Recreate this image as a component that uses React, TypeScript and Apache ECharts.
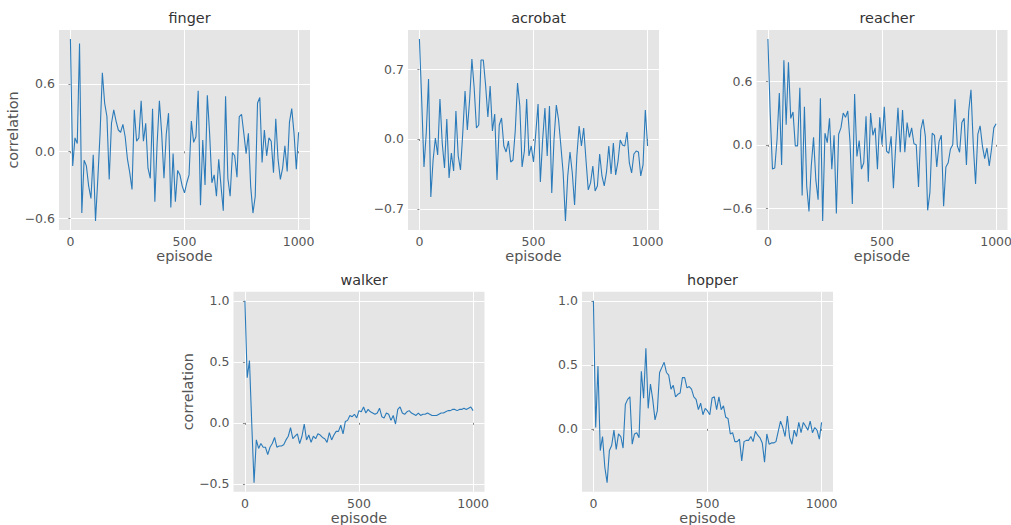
import React, { useEffect, useRef } from "react";
import * as echarts from "echarts";

// Episode index shared by every panel (one sample every 10 episodes)
const episodes = [
  0, 10, 20, 30, 40, 50, 60, 70, 80, 90,
  100, 110, 120, 130, 140, 150, 160, 170, 180, 190,
  200, 210, 220, 230, 240, 250, 260, 270, 280, 290,
  300, 310, 320, 330, 340, 350, 360, 370, 380, 390,
  400, 410, 420, 430, 440, 450, 460, 470, 480, 490,
  500, 510, 520, 530, 540, 550, 560, 570, 580, 590,
  600, 610, 620, 630, 640, 650, 660, 670, 680, 690,
  700, 710, 720, 730, 740, 750, 760, 770, 780, 790,
  800, 810, 820, 830, 840, 850, 860, 870, 880, 890,
  900, 910, 920, 930, 940, 950, 960, 970, 980, 990,
  1000,
];

const finger = [
  1.0, -0.13, 0.12, 0.07, 0.96, -0.55, -0.08, -0.13, -0.31, -0.42,
  -0.03, -0.62, -0.25, 0.16, 0.7, 0.43, 0.31, -0.25, 0.25, 0.37,
  0.27, 0.19, 0.17, 0.24, 0.13, -0.07, -0.19, -0.34, 0.37, 0.09,
  0.12, 0.45, 0.09, 0.25, -0.15, -0.24, 0.38, -0.45, 0.07, 0.45,
  0.16, -0.24, 0.15, 0.34, -0.5, -0.02, -0.45, -0.17, -0.21, -0.31,
  -0.37, -0.28, -0.21, 0.27, 0.08, 0.13, 0.54, -0.48, 0.1, -0.3,
  0.5, 0.16, -0.28, -0.21, -0.4, -0.07, -0.31, -0.53, 0.49, -0.24,
  -0.4, -0.01, -0.04, -0.23, 0.31, 0.33, 0.16, -0.02, 0.16, -0.31,
  -0.55, -0.4, 0.43, 0.48, -0.1, 0.19, -0.04, 0.12, 0.09, -0.19,
  0.29, -0.07, -0.25, -0.15, 0.05, -0.18, 0.26, 0.38, 0.16, -0.16,
  0.17,
];

const acrobat = [
  1.0, 0.39, -0.28, 0.06, 0.6, -0.58, -0.21, 0.01, -0.16, 0.4,
  -0.04, -0.29, 0.2, -0.39, -0.14, -0.32, 0.28, -0.17, -0.31, 0.06,
  0.48, 0.09, 0.39, 0.8, 0.51, 0.11, 0.14, 0.79, 0.79, 0.54,
  0.22, 0.53, 0.08, 0.25, -0.41, 0.14, 0.21, -0.07, -0.13, -0.02,
  -0.23, -0.21, 0.08, 0.56, 0.33, -0.28, -0.12, 0.4, -0.17, -0.07,
  -0.23, 0.06, 0.35, -0.43, -0.01, 0.31, -0.17, 0.33, -0.54, 0.0,
  0.34, 0.19, -0.07, -0.34, -0.82, -0.37, -0.13, -0.34, -0.66, -0.17,
  0.13, -0.07, 0.11, -0.21, -0.51, -0.44, -0.27, -0.52, -0.47, -0.15,
  -0.37, -0.47, -0.33, -0.07, -0.35, -0.04, -0.36, -0.23, -0.01, -0.06,
  -0.07, 0.07, -0.24, -0.34, -0.15, -0.12, -0.13, -0.37, -0.26, 0.29,
  -0.07,
];

const reacher = [
  1.0, 0.3, -0.23, -0.22, 0.05, 0.49, -0.19, 0.8, 0.19, 0.78,
  0.25, 0.31, -0.01, -0.01, 0.54, -0.48, 0.36, -0.39, -0.63, -0.2,
  0.07, -0.33, -0.52, 0.44, -0.72, 0.11, 0.02, 0.25, -0.23, 0.09,
  -0.65, 0.1, 0.16, 0.3, 0.26, 0.32, 0.02, -0.56, 0.48, -0.11,
  0.04, -0.23, -0.17, 0.27, -0.35, 0.3, 0.09, 0.16, -0.23, 0.26,
  0.0, 0.36, -0.06, -0.08, 0.08, -0.41, -0.01, 0.35, -0.07, 0.33,
  -0.07, 0.21, 0.07, 0.16, 0.01, 0.0, -0.4, 0.14, 0.24, 0.08,
  -0.62, -0.45, 0.11, 0.09, -0.21, 0.03, 0.09, -0.58, -0.21, -0.17,
  -0.04, 0.0, 0.43, -0.01, -0.07, 0.21, 0.25, -0.19, 0.32, 0.52,
  0.0, -0.37, 0.1, 0.18, -0.01, -0.13, -0.03, -0.2, -0.04, 0.16,
  0.2,
];

const walker = [
  1.0, 0.37, 0.51, -0.01, -0.49, -0.14, -0.21, -0.17, -0.2, -0.2,
  -0.26, -0.2, -0.17, -0.12, -0.2, -0.19, -0.19, -0.18, -0.14, -0.11,
  -0.04, -0.13, -0.11, -0.09, -0.17, -0.11, -0.01, -0.14, -0.1, -0.16,
  -0.11, -0.13, -0.09, -0.1, -0.12, -0.13, -0.16, -0.08, -0.14, -0.1,
  -0.07, -0.07, -0.02, -0.09, 0.01, 0.02, 0.06, 0.05, 0.07, 0.04,
  0.1, 0.09, 0.13, 0.08, 0.11, 0.09, 0.08, 0.07, 0.08, 0.12,
  0.05, 0.04, 0.08, 0.07, 0.02, 0.06, -0.01, 0.11, 0.13, 0.08,
  0.07, 0.09, 0.1, 0.08, 0.07, 0.06, 0.08, 0.06, 0.07, 0.07,
  0.08, 0.07, 0.06, 0.06, 0.06, 0.07, 0.08, 0.08, 0.09, 0.1,
  0.1, 0.11, 0.11, 0.1, 0.11, 0.11, 0.12, 0.11, 0.12, 0.13,
  0.1,
];

const hopper = [
  1.0, 0.01, 0.49, -0.17, -0.06, -0.3, -0.42, -0.17, -0.13, -0.01,
  -0.16, -0.04, -0.06, -0.15, 0.19, 0.23, 0.25, -0.12, -0.04, -0.03,
  -0.07, 0.45, 0.24, 0.63, 0.16, 0.35, 0.23, 0.07, 0.14, 0.44,
  0.48, 0.52, 0.44, 0.42, 0.31, 0.34, 0.25, 0.27, 0.28, 0.4,
  0.4, 0.32, 0.33, 0.31, 0.25, 0.23, 0.15, 0.2, 0.11, 0.16,
  0.14, 0.11, 0.24, 0.25, 0.15, 0.25, 0.15, 0.18, 0.09, 0.08,
  -0.04, -0.03, -0.1, -0.1, -0.08, -0.25, -0.1, -0.09, -0.09, -0.06,
  -0.1, -0.02, -0.05, -0.07, -0.11, -0.26, -0.04, -0.12, -0.11, -0.11,
  -0.1, -0.02, 0.06, 0.01, -0.06, 0.1, -0.07, -0.12, -0.01, -0.06,
  0.05, -0.03, 0.05, 0.02, -0.01, 0.06, -0.03, 0.01, -0.01, -0.08,
  0.05,
];

// Tick positions
const xTicks = [0, 500, 1000];
const fingerTicks = [-0.6, 0.0, 0.6];
const acrobatTicks = [-0.7, 0.0, 0.7];
const reacherTicks = [-0.6, 0.0, 0.6];
const walkerTicks = [-0.5, 0.0, 0.5, 1.0];
const hopperTicks = [0.0, 0.5, 1.0];

const FONT = "DejaVu Sans";
const TEXT_GRAY = "#555555";
const LINE_BLUE = "#2b7bba";

type Panel = {
  title: string;
  values: number[];
  ticks: number[];
  showYName: boolean;
  left: number;
  top: number;
};

const panels: Panel[] = [
  { title: "finger", values: finger, ticks: fingerTicks, showYName: true, left: 59, top: 30 },
  { title: "acrobat", values: acrobat, ticks: acrobatTicks, showYName: false, left: 408, top: 30 },
  { title: "reacher", values: reacher, ticks: reacherTicks, showYName: false, left: 756.5, top: 30 },
  { title: "walker", values: walker, ticks: walkerTicks, showYName: true, left: 233.5, top: 291.7 },
  { title: "hopper", values: hopper, ticks: hopperTicks, showYName: false, left: 582, top: 291.7 },
];

const PW = 251;
const PH = 200;

// Axis range padded by 5% of the data span on each side
function paddedRange(vals: number[]): [number, number] {
  const lo = Math.min(...vals);
  const hi = Math.max(...vals);
  const pad = (hi - lo) * 0.05;
  return [lo - pad, hi + pad];
}

function fmtY(v: number): string {
  const s = Math.abs(v).toFixed(1);
  return v < -1e-9 ? "\u2212" + s : s;
}

export default function App() {
  const ref = useRef<HTMLDivElement>(null);

  useEffect(() => {
    document.body.style.margin = "0";
    if (!ref.current) return;
    const chart = echarts.init(ref.current, undefined, { renderer: "svg" });

    const grids = panels.map((p) => ({
      left: p.left,
      top: p.top,
      width: PW,
      height: PH,
      show: true,
      backgroundColor: "#E5E5E5",
      borderWidth: 0,
      outerBoundsMode: "none",
    }));

    const xAxes = panels.map((p, i) => ({
      type: "value",
      gridIndex: i,
      min: -50,
      max: 1050,
      axisLine: { show: false },
      axisTick: {
        show: true,
        length: 2,
        customValues: xTicks,
        lineStyle: { color: "#888888", width: 1 },
      },
      axisLabel: {
        customValues: xTicks,
        color: TEXT_GRAY,
        fontSize: 12.5,
        fontFamily: FONT,
        margin: 5,
        formatter: (v: number) => String(Math.round(v)),
      },
      splitLine: { show: true, lineStyle: { color: "#FFFFFF", width: 1 } },
      name: "episode",
      nameLocation: "middle",
      nameGap: 19,
      nameTextStyle: { color: TEXT_GRAY, fontSize: 14.4, fontFamily: FONT },
    }));

    const yAxes = panels.map((p, i) => {
      const [lo, hi] = paddedRange(p.values);
      return {
        type: "value",
        gridIndex: i,
        min: lo,
        max: hi,
        axisLine: { show: false },
        axisTick: {
          show: true,
          length: 2,
          customValues: p.ticks,
          lineStyle: { color: "#888888", width: 1 },
        },
        axisLabel: {
          customValues: p.ticks,
          color: TEXT_GRAY,
          fontSize: 12.5,
          fontFamily: FONT,
          margin: 4,
          formatter: (v: number) => fmtY(v),
        },
        splitLine: { show: true, lineStyle: { color: "#FFFFFF", width: 1 } },
        name: p.showYName ? "correlation" : "",
        nameLocation: "middle",
        nameGap: 39,
        nameTextStyle: { color: TEXT_GRAY, fontSize: 14.4, fontFamily: FONT },
      };
    });

    const titles = panels.map((p) => ({
      text: p.title,
      left: p.left + PW / 2,
      top: p.top - 24,
      textAlign: "center",
      textStyle: { color: "#333333", fontSize: 14.4, fontWeight: "normal", fontFamily: FONT },
    }));

    const series = panels.map((p, i) => ({
      type: "line",
      xAxisIndex: i,
      yAxisIndex: i,
      data: episodes.map((e, k) => [e, p.values[k]]),
      showSymbol: false,
      symbol: "none",
      lineStyle: { color: LINE_BLUE, width: 1.1 },
      silent: true,
    }));

    chart.setOption({
      animation: false,
      backgroundColor: "#FFFFFF",
      textStyle: { fontFamily: FONT },
      title: titles,
      grid: grids,
      xAxis: xAxes,
      yAxis: yAxes,
      series,
    } as any);

    return () => chart.dispose();
  }, []);

  return <div ref={ref} style={{ width: 1011, height: 525 }} />;
}
